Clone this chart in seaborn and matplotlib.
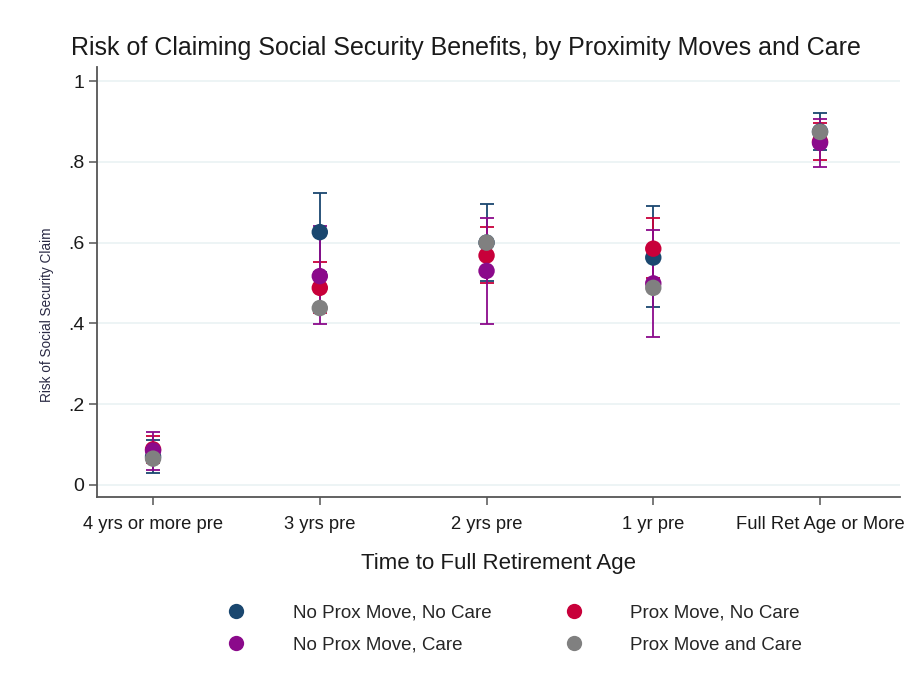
import matplotlib
matplotlib.use("Agg")
import matplotlib.pyplot as plt
import seaborn as sns
import pandas as pd
from matplotlib.lines import Line2D

# Time-to-FRA categories
categories = ["4 yrs or more pre", "3 yrs pre", "2 yrs pre", "1 yr pre", "Full Ret Age or More"]

# Predicted risk of claiming, with 95% confidence bounds
no_move_no_care = [0.070, 0.626, 0.600, 0.563, 0.875]
no_move_no_care_lo = [0.030, 0.528, 0.504, 0.440, 0.830]
no_move_no_care_hi = [0.110, 0.724, 0.696, 0.690, 0.920]

move_no_care = [0.088, 0.488, 0.568, 0.585, 0.850]
move_no_care_lo = [0.055, 0.425, 0.499, 0.512, 0.804]
move_no_care_hi = [0.121, 0.553, 0.638, 0.660, 0.895]

no_move_care = [0.085, 0.517, 0.530, 0.499, 0.847]
no_move_care_lo = [0.037, 0.398, 0.398, 0.367, 0.788]
no_move_care_hi = [0.132, 0.640, 0.660, 0.631, 0.907]

move_and_care = [0.065, 0.438, 0.600, 0.488, 0.874]

series_names = ["No Prox Move, No Care", "Prox Move, No Care",
                "No Prox Move, Care", "Prox Move and Care"]
colors = {"No Prox Move, No Care": "#1a476f",
          "Prox Move, No Care": "#c8003a",
          "No Prox Move, Care": "#8b0a8b",
          "Prox Move and Care": "#808080"}

y_ticks = [0, 0.2, 0.4, 0.6, 0.8, 1.0]
y_ticklabels = ["0", ".2", ".4", ".6", ".8", "1"]

sns.set_theme(style="white")
plt.rcParams["font.family"] = ["Liberation Sans", "DejaVu Sans"]

rows = []
for name, est, lo, hi in [
    (series_names[0], no_move_no_care, no_move_no_care_lo, no_move_no_care_hi),
    (series_names[1], move_no_care, move_no_care_lo, move_no_care_hi),
    (series_names[2], no_move_care, no_move_care_lo, no_move_care_hi),
    (series_names[3], move_and_care, None, None),
]:
    for i, c in enumerate(categories):
        rows.append({"period": c, "group": name, "risk": est[i],
                     "lo": None if lo is None else lo[i],
                     "hi": None if hi is None else hi[i]})
df = pd.DataFrame(rows)

fig = plt.figure(figsize=(9.12, 6.73), dpi=100)
ax = fig.add_axes([0.1064, 0.2615, 0.8805, 0.639])

# Confidence intervals (gray group has none)
for k, name in enumerate(series_names):
    sub = df[df["group"] == name]
    if sub["lo"].notna().all():
        x = [categories.index(p) for p in sub["period"]]
        ax.errorbar(x, sub["risk"],
                    yerr=[sub["risk"] - sub["lo"], sub["hi"] - sub["risk"]],
                    fmt="none", ecolor=colors[name], elinewidth=1.3,
                    capsize=5, capthick=1.3, zorder=2 + k * 0.1)

sns.scatterplot(data=df, x="period", y="risk", hue="group",
                hue_order=series_names, palette=colors, s=140,
                edgecolor="none", linewidth=0, legend=False, ax=ax, zorder=4)

ax.set_xlim(-0.336, 4.48)
ax.set_ylim(-0.03, 1.035)
ax.set_yticks(y_ticks)
ax.set_yticklabels(y_ticklabels)
ax.yaxis.grid(True, color="#eaf2f3", linewidth=1.2)
ax.set_axisbelow(True)

for side in ["top", "right"]:
    ax.spines[side].set_visible(False)
for side in ["left", "bottom"]:
    ax.spines[side].set_color("#555555")
    ax.spines[side].set_linewidth(1.3)

ax.tick_params(axis="both", which="both", direction="out", length=6, width=1.1,
               color="#555555", labelcolor="#1a1a1a", bottom=True, left=True)
ax.tick_params(axis="y", labelsize=14, pad=3)
ax.tick_params(axis="x", labelsize=13.2, pad=8)

ax.set_xlabel("Time to Full Retirement Age", fontsize=16, color="#1a1a1a", labelpad=14)
ax.set_ylabel("Risk of Social Security Claim", fontsize=9.8, color="#2a2a44")
ax.yaxis.set_label_coords(-0.054, 0.423)
fig.text(0.511, 0.929,
         "Risk of Claiming Social Security Benefits, by Proximity Moves and Care",
         fontsize=18, color="#1a1a1a", ha="center", va="center")

handles = [Line2D([], [], linestyle="none", marker="o", markersize=11,
                  markerfacecolor=colors[n], markeredgecolor="none") for n in series_names]
# ncol=2 fills by column: blue, purple | red, gray
order = [0, 2, 1, 3]
fig.legend([handles[i] for i in order], [series_names[i] for i in order],
           loc="center", bbox_to_anchor=(0.564, 0.065), ncol=2, frameon=False,
           fontsize=13.5, handletextpad=2.5, columnspacing=3.9, labelspacing=0.8,
           handlelength=1.0)

fig.savefig("out.png", dpi=100, facecolor="white")
